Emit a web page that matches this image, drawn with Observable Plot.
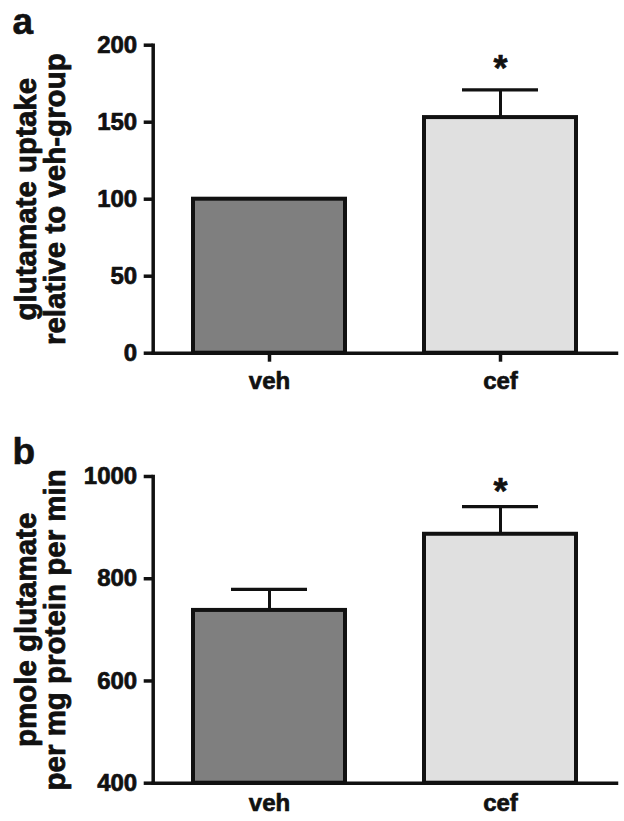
<!DOCTYPE html>
<html><head><meta charset="utf-8">
<script src="https://cdn.jsdelivr.net/npm/d3@7"></script>
<script src="https://cdn.jsdelivr.net/npm/@observablehq/plot@0.6"></script>
<style>
body{margin:0;background:#fff;}
#chart svg{display:block;}
</style></head><body><div id="chart"></div>
<script>
const groups = ["veh", "cef"];
const fills = ["#7f7f7f", "#e0e0e0"];
const sigGroups = ["cef"];

// panel a
const uptakeMean = [100, 153];
const uptakeErr = [0, 18];
const uptakeTicks = [0, 50, 100, 150, 200];
const uptakeTitle = "glutamate uptake\nrelative to veh-group";

// panel b
const rateMean = [738, 887];
const rateErr = [41, 54];
const rateTicks = [400, 600, 800, 1000];
const rateTitle = "pmole glutamate\nper mg protein per min";

const INK = "#111";
const FONT = "'Liberation Sans', Arial, Helvetica, sans-serif";

function panel(o) {
  const rows = groups.map((g, i) => ({
    group: g, mean: o.mean[i], err: o.err[i], upper: o.mean[i] + o.err[i],
    fill: fills[i], base: o.ticks[0]
  }));
  const errRows = rows.filter(d => d.err > 0);
  const sigRows = rows.filter(d => sigGroups.includes(d.group));
  return Plot.plot({
    width: 624,
    height: o.height,
    marginTop: o.marginTop,
    marginBottom: o.marginBottom,
    marginLeft: 152.7,
    marginRight: 8,
    style: {fontFamily: FONT, fontWeight: "bold", color: INK, background: "#fff", overflow: "visible"},
    x: {domain: groups, paddingInner: 0.34, paddingOuter: 0.17},
    y: {domain: [o.ticks[0], o.ticks[o.ticks.length - 1]]},
    marks: [
      Plot.ruleX(errRows, {x: "group", y1: "mean", y2: "upper", stroke: INK, strokeWidth: 3}),
      Plot.tickY(errRows, {x: "group", y: "upper", stroke: INK, strokeWidth: 3.3, insetLeft: 38, insetRight: 38}),
      Plot.barY(rows, {x: "group", y1: "base", y2: "mean", fill: d => d.fill, stroke: INK, strokeWidth: 4}),
      Plot.text(sigRows, {x: "group", y: "upper", text: () => "*", dy: o.starDy, fontSize: 36, lineAnchor: "bottom", fill: INK, stroke: INK, strokeWidth: 0.6}),
      Plot.frame({anchor: "left", stroke: INK, strokeWidth: 3.5}),
      Plot.frame({anchor: "bottom", stroke: INK, strokeWidth: 3.5}),
      Plot.axisY({ticks: o.ticks, tickFormat: d3.format("d"), tickSize: 9, tickPadding: 7, stroke: INK, strokeWidth: 3.5, fontSize: 24, label: null, fill: INK, textStroke: INK, textStrokeWidth: 0.7}),
      Plot.axisX({tickSize: o.xTickSize, tickPadding: o.xTickPadding, stroke: INK, strokeWidth: 3.5, fontSize: 24, label: null, fill: INK, textStroke: INK, textStrokeWidth: 0.7}),
      Plot.text([o.title], {frameAnchor: "left", rotate: -90, dx: -112, fontSize: 29.5, lineHeight: 1.0, textAnchor: "middle", lineAnchor: "middle", fill: INK, stroke: INK, strokeWidth: 0.8}),
      Plot.text([o.letter], {frameAnchor: "top-left", dx: 12 - 152.7, dy: o.letterDy, fontSize: 37, textAnchor: "start", lineAnchor: "bottom", fill: INK, stroke: INK, strokeWidth: 0.6})
    ]
  });
}

const chart = document.getElementById("chart");
chart.append(panel({
  letter: "a", mean: uptakeMean, err: uptakeErr, ticks: uptakeTicks, title: uptakeTitle,
  height: 400, marginTop: 44.7, marginBottom: 47.3, xTickSize: 9, xTickPadding: 10, starDy: -9, letterDy: -11
}));
chart.append(panel({
  letter: "b", mean: rateMean, err: rateErr, ticks: rateTicks, title: rateTitle,
  height: 421, marginTop: 76, marginBottom: 38.3, xTickSize: 0, xTickPadding: 10.5, starDy: -3, letterDy: -13
}));
</script></body></html>
